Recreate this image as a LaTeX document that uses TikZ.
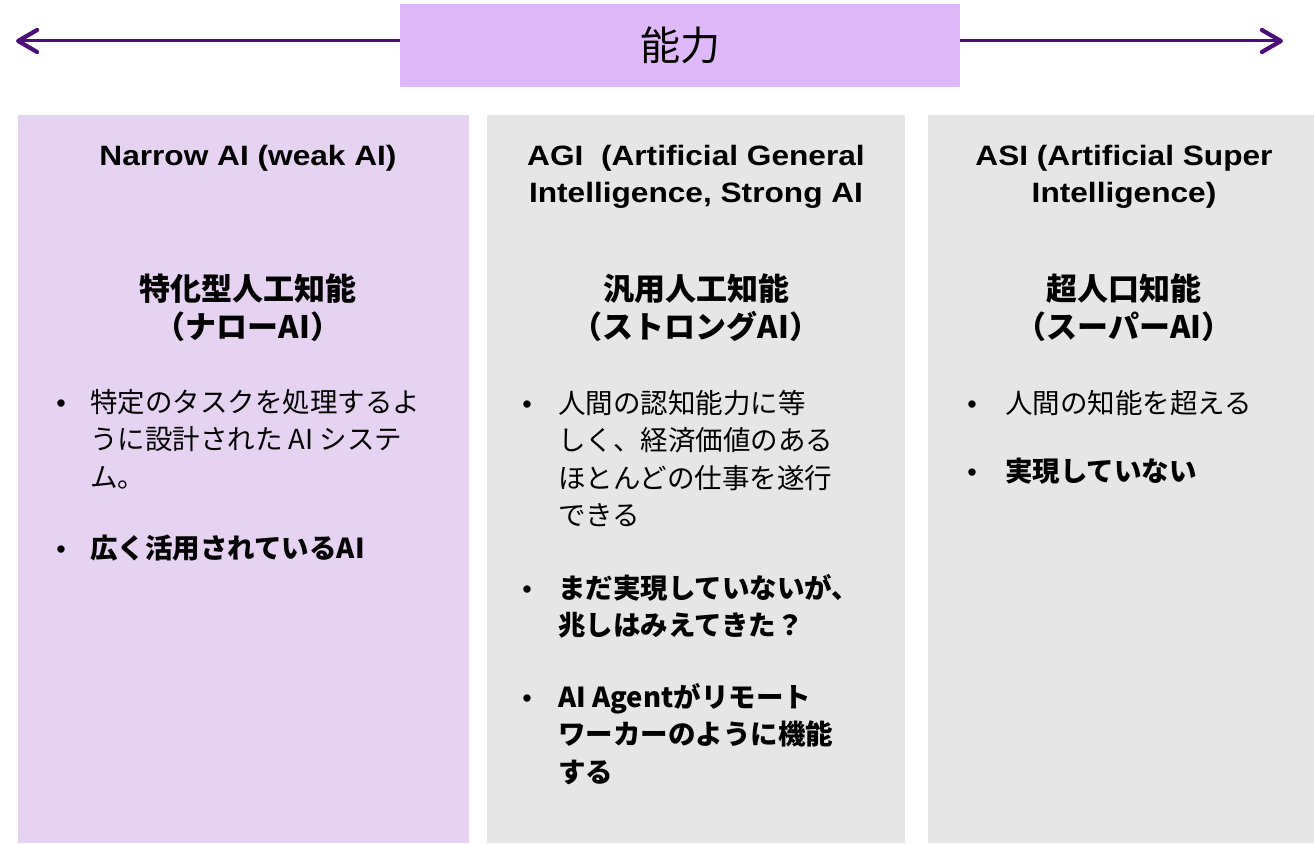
\documentclass[tikz,border=0pt]{standalone}
\usepackage{fontspec}
\setmainfont{Liberation Sans}
\newfontfamily\jp{Noto Sans CJK JP}
\newfontfamily\en{Liberation Sans}[FakeStretch=1.13]
\usetikzlibrary{arrows.meta}
\definecolor{capfill}{RGB}{222,184,248}
\definecolor{narrowfill}{RGB}{230,211,242}
\definecolor{greyfill}{RGB}{230,230,230}
\definecolor{arrowpurple}{RGB}{76,14,120}
\begin{document}
\begin{tikzpicture}[x=1pt,y=-1pt,
  colbox/.style={rectangle, inner sep=0pt, anchor=north west, draw=none},
  enhead/.style={font=\en\bfseries\fontsize{28}{37}\selectfont, align=center, anchor=base, inner sep=0pt},
  jphead/.style={font=\jp\bfseries\fontsize{31}{38}\selectfont, align=center, anchor=base, inner sep=0pt},
  bodytext/.style={font=\jp\fontsize{27.5}{37.5}\selectfont, align=left, anchor=base west, inner sep=0pt},
  boldtext/.style={font=\jp\bfseries\fontsize{27.5}{37.5}\selectfont, align=left, anchor=base west, inner sep=0pt},
  bulletmark/.style={font=\fontsize{27}{27}\selectfont, anchor=base, inner sep=0pt},
  arr/.style={draw=arrowpurple, line width=3pt, -{Straight Barb[length=19pt,width=22pt,line width=4.2pt,line cap=round,line join=round]}}
]
\useasboundingbox (0,0) rectangle (1314,843);

% columns
\node[colbox, fill=narrowfill, minimum width=451pt, minimum height=728pt] (col1) at (18,115) {};
\node[colbox, fill=greyfill, minimum width=418pt, minimum height=728pt] (col2) at (487,115) {};
\node[colbox, fill=greyfill, minimum width=386pt, minimum height=728pt] (col3) at (928,115) {};

% top capability bar
\node[fill=capfill, minimum width=560pt, minimum height=83pt, inner sep=0pt,
      font=\jp\fontsize{40}{40}\selectfont] (cap) at (680,45.5) {能力};
\coordinate (lefttip) at (16,41);
\coordinate (righttip) at (1283,41);
\draw[arr] ([yshift=4.5pt]cap.west) -- (lefttip);
\draw[arr] ([yshift=4.5pt]cap.east) -- (righttip);

% column 1 (multi-line nodes: base = baseline of last line)
\node[enhead] (h1) at (248,165) {Narrow AI (weak AI)};
\node[jphead] (j1) at (248,338) {特化型人工知能\\（ナローAI）};
\node[bulletmark] (b11) at (61,412) {•};
\node[bodytext] (t11) at (90,487) {特定のタスクを処理するよ\\うに設計された AI システ\\ム。};
\node[bulletmark] (b12) at (61,558) {•};
\node[boldtext] (t12) at (90,558) {広く活用されているAI};

% column 2
\node[enhead] (h2) at (696,202) {AGI\ \ (Artificial General\\Intelligence, Strong AI};
\node[jphead] (j2) at (696,338) {汎用人工知能\\（ストロングAI）};
\node[bulletmark] (b21) at (527,413) {•};
\node[bodytext] (t21) at (558,525.5) {人間の認知能力に等\\しく、経済価値のある\\ほとんどの仕事を遂行\\できる};
\node[bulletmark] (b22) at (527,598) {•};
\node[boldtext] (t22) at (558,635.5) {まだ実現していないが、\\兆しはみえてきた？};
\node[bulletmark] (b23) at (527,707) {•};
\node[boldtext] (t23) at (558,782) {AI Agentがリモート\\ワーカーのように機能\\する};

% column 3
\node[enhead] (h3) at (1124,202) {ASI (Artificial Super\\Intelligence)};
\node[jphead] (j3) at (1124,338) {超人口知能\\（スーパーAI）};
\node[bulletmark] (b31) at (972,413) {•};
\node[bodytext] (t31) at (1005,413) {人間の知能を超える};
\node[bulletmark] (b32) at (972,481) {•};
\node[boldtext] (t32) at (1005,481) {実現していない};
\end{tikzpicture}
\end{document}
